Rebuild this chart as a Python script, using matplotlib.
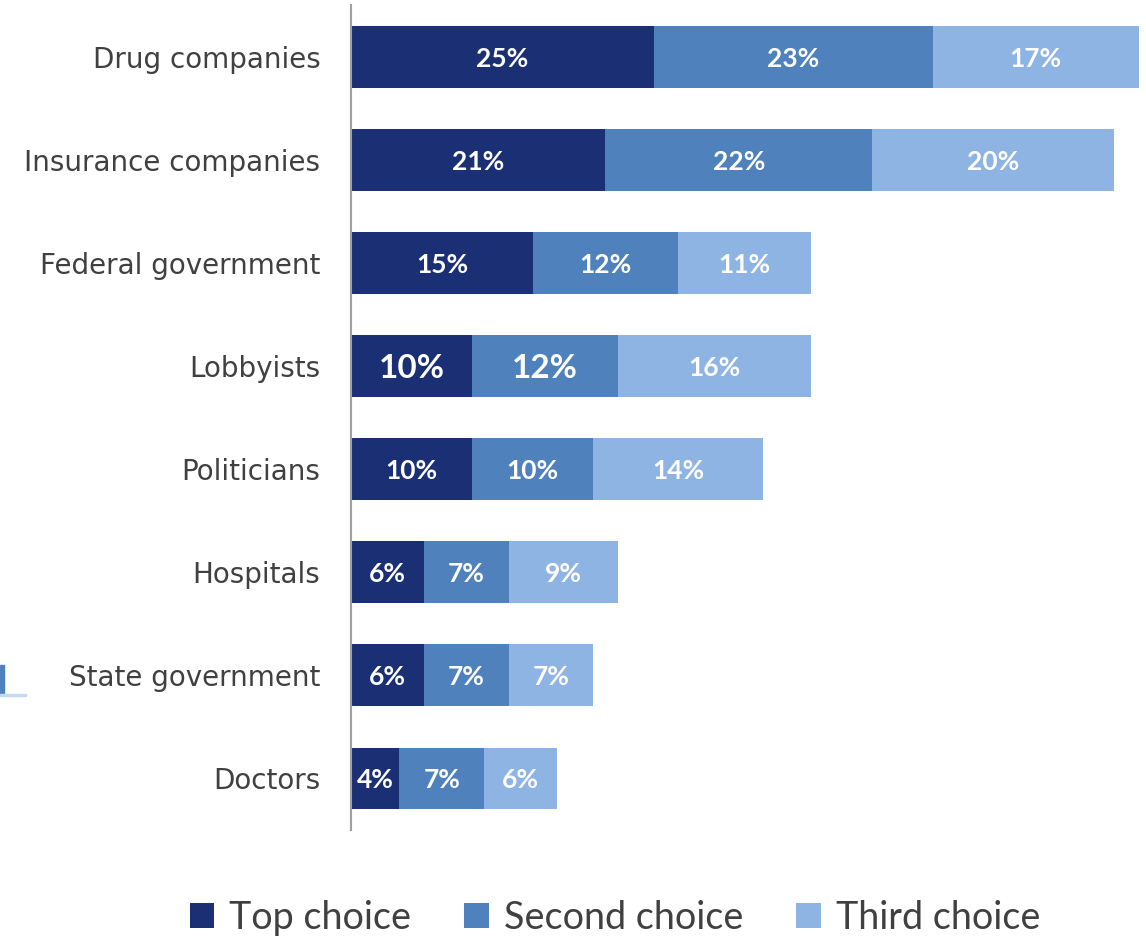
import matplotlib
matplotlib.use("Agg")
import matplotlib.pyplot as plt
from matplotlib.patches import Patch, Rectangle

categories = ["Drug companies", "Insurance companies", "Federal government",
              "Lobbyists", "Politicians", "Hospitals", "State government", "Doctors"]
top_choice = [25, 21, 15, 10, 10, 6, 6, 4]
second_choice = [23, 22, 12, 12, 10, 7, 7, 7]
third_choice = [17, 20, 11, 16, 14, 9, 7, 6]
series_names = ["Top choice", "Second choice", "Third choice"]
colors = ["#1A2F74", "#4F81BD", "#8EB4E3"]

# lobbyists' first two labels are drawn bigger in the original
big_labels = {(3, 0), (3, 1)}

fig = plt.figure(figsize=(11.46, 9.39), dpi=100)
ax = fig.add_axes([351 / 1146, 1 - 830 / 939, 790 / 1146, 825 / 939])

ypos = list(range(len(categories)))
left = [0] * len(categories)
for s, (vals, col) in enumerate(zip([top_choice, second_choice, third_choice], colors)):
    bars = ax.barh(ypos, vals, left=left, height=0.6, color=col, label=series_names[s])
    for i, (b, v) in enumerate(zip(bars, vals)):
        big = (i, s) in big_labels
        ax.text(b.get_x() + b.get_width() / 2, b.get_y() + b.get_height() / 2 + 0.02,
                f"{v}%", ha="center", va="center", color="white",
                fontsize=24 if big else 19, fontweight="bold", family="Lato")
    left = [l + v for l, v in zip(left, vals)]

ax.set_xlim(0, 65.2)
ax.set_ylim(7.5, -0.5)
ax.set_yticks(ypos)
ax.set_yticklabels(categories, fontsize=20, color="#404040", family="DejaVu Sans")
ax.tick_params(axis="y", length=0, pad=22)
ax.set_xticks([])
for side in ["top", "right", "bottom"]:
    ax.spines[side].set_visible(False)
ax.spines["left"].set_color("#A0A0A0")
ax.spines["left"].set_linewidth(1.5)

handles = [Patch(facecolor=c, label=n) for c, n in zip(colors, series_names)]
fig.legend(handles=handles, loc="center", bbox_to_anchor=(615 / 1146, 1 - 918 / 939),
           ncol=3, frameon=False, prop={"family": "Lato", "size": 27.2},
           labelcolor="#404040", handlelength=0.65, handleheight=0.65,
           handletextpad=0.4, columnspacing=1.4)

# leftover fragment of a clipped legend at the left edge
fig.patches.append(Rectangle((0, 1 - 693 / 939), 4 / 1146, 28 / 939,
                             transform=fig.transFigure, color=colors[1]))
fig.patches.append(Rectangle((0, 1 - 696 / 939), 26 / 1146, 2 / 939,
                             transform=fig.transFigure, color="#C5D9F1"))

fig.savefig("out.png", dpi=100)
